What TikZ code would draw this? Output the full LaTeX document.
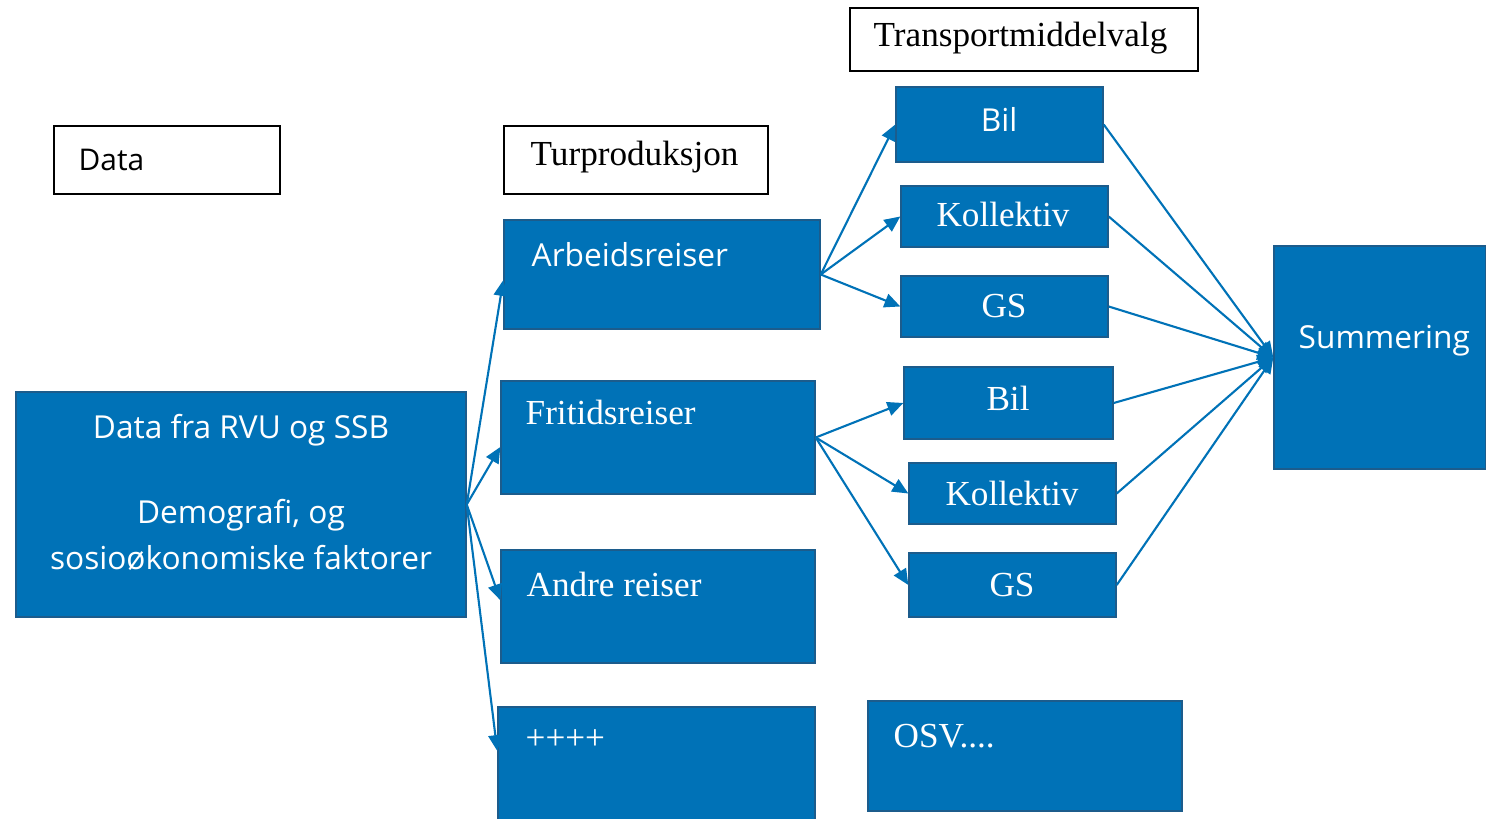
\documentclass[tikz,border=0pt]{standalone}
\usepackage{fontspec}
\setmainfont{Liberation Serif}
\setsansfont{Open Sans}
\usetikzlibrary{arrows.meta,fit}
\definecolor{boxblue}{RGB}{0,114,183}
\definecolor{boxedge}{RGB}{28,92,140}
\tikzset{
  bluebox/.style={fill=boxblue,draw=boxedge,line width=0.4pt,inner sep=0pt},
  titlebox/.style={draw=black,line width=0.8pt,inner sep=0pt},
  sanstxt/.style={font=\sffamily\fontsize{9}{11}\selectfont,text=white,inner sep=0pt},
  seriftxt/.style={font=\fontsize{10}{12}\selectfont,text=white,inner sep=0pt},
  flow/.style={draw=boxblue,line width=0.6pt,-{Triangle[length=4.5pt,width=4pt]}}
}
\begin{document}
\begin{tikzpicture}[x=0.01cm,y=-0.01cm]
        \useasboundingbox (0,0) rectangle (1486,819);
        % headings
        \node (datahead) [titlebox,fit={(54,126) (280,194)}] {};
        \node (turhead) [titlebox,fit={(504,126) (768,194)}] {};
        \node (modehead) [titlebox,fit={(850,8) (1198,71)}] {};
        \node (dataheadtxt) at (78,171) [anchor=base west,sanstxt,text=black,font=\sffamily\fontsize{8.5}{10}\selectfont] {Data};
        \node (turheadtxt) at (530,166) [anchor=base west,seriftxt,text=black] {Turproduksjon};
        \node (modeheadtxt) at (873,47) [anchor=base west,seriftxt,text=black] {Transportmiddelvalg};
        % data
        \node (kilde) [bluebox,fit={(16,392) (466,617)}] {};
        \node (kildetxt) at (241,569) [anchor=base,sanstxt,align=center,font=\sffamily\fontsize{9}{13}\selectfont] {Data fra RVU og SSB\\[11pt]Demografi, og\\sosioøkonomiske faktorer};
        % trip purposes
        \node (arbeids) [bluebox,fit={(504,220) (820,329)}] {};
        \node (fritids) [bluebox,fit={(501,381) (815,494)}] {};
        \node (andre) [bluebox,fit={(501,550) (815,663)}] {};
        \node (pluss) [bluebox,fit={(498,707) (815,830)}] {};
        \node (arbeidstxt) at (531,267) [anchor=base west,sanstxt] {Arbeidsreiser};
        \node (fritidstxt) at (525,425) [anchor=base west,seriftxt] {Fritidsreiser};
        \node (andretxt) at (526,596) [anchor=base west,seriftxt] {Andre reiser};
        \node (plusstxt) at (525,749) [anchor=base west,seriftxt] {++++};
        % modes
        \node (bil1) [bluebox,fit={(896,87) (1103,162)}] {};
        \node (koll1) [bluebox,fit={(901,186) (1108,247)}] {};
        \node (gs1) [bluebox,fit={(901,276) (1108,337)}] {};
        \node (bil2) [bluebox,fit={(904,367) (1113,439)}] {};
        \node (koll2) [bluebox,fit={(909,463) (1116,524)}] {};
        \node (gs2) [bluebox,fit={(909,553) (1116,617)}] {};
        \node (bil1txt) at (999,132) [anchor=base,sanstxt] {Bil};
        \node (koll1txt) at (1003,227) [anchor=base,seriftxt] {Kollektiv};
        \node (gs1txt) at (1004,318) [anchor=base,seriftxt] {GS};
        \node (bil2txt) at (1008,410) [anchor=base,seriftxt] {Bil};
        \node (koll2txt) at (1012,505) [anchor=base,seriftxt] {Kollektiv};
        \node (gs2txt) at (1012,596) [anchor=base,seriftxt] {GS};
        % result
        \node (sum) [bluebox,fit={(1274,246) (1486,469)}] {};
        \node (sumtxt) at (1298,349) [anchor=base west,sanstxt] {Summering};
        \node (osv) [bluebox,fit={(868,701) (1182,811)}] {};
        \node (osvtxt) at (893,747) [anchor=base west,seriftxt] {OSV....};
        % connectors
        \draw[flow] (kilde.east) -- ([yshift=-1.6pt]arbeids.west);
        \draw[flow] (kilde.east) -- ([yshift=-2.7pt]fritids.west);
        \draw[flow] (kilde.east) -- ([yshift=1.8pt]andre.west);
        \draw[flow] (kilde.east) -- ([yshift=5pt]pluss.west);
        \foreach \m in {bil1,koll1,gs1}
            \draw[flow] (arbeids.east) -- (\m.west);
        \foreach \m in {bil2,koll2,gs2}
            \draw[flow] (fritids.east) -- (\m.west);
        \foreach \m in {bil1,koll1,gs1,bil2,koll2,gs2}
            \draw[flow] (\m.east) -- (sum.west);
\end{tikzpicture}
\end{document}
